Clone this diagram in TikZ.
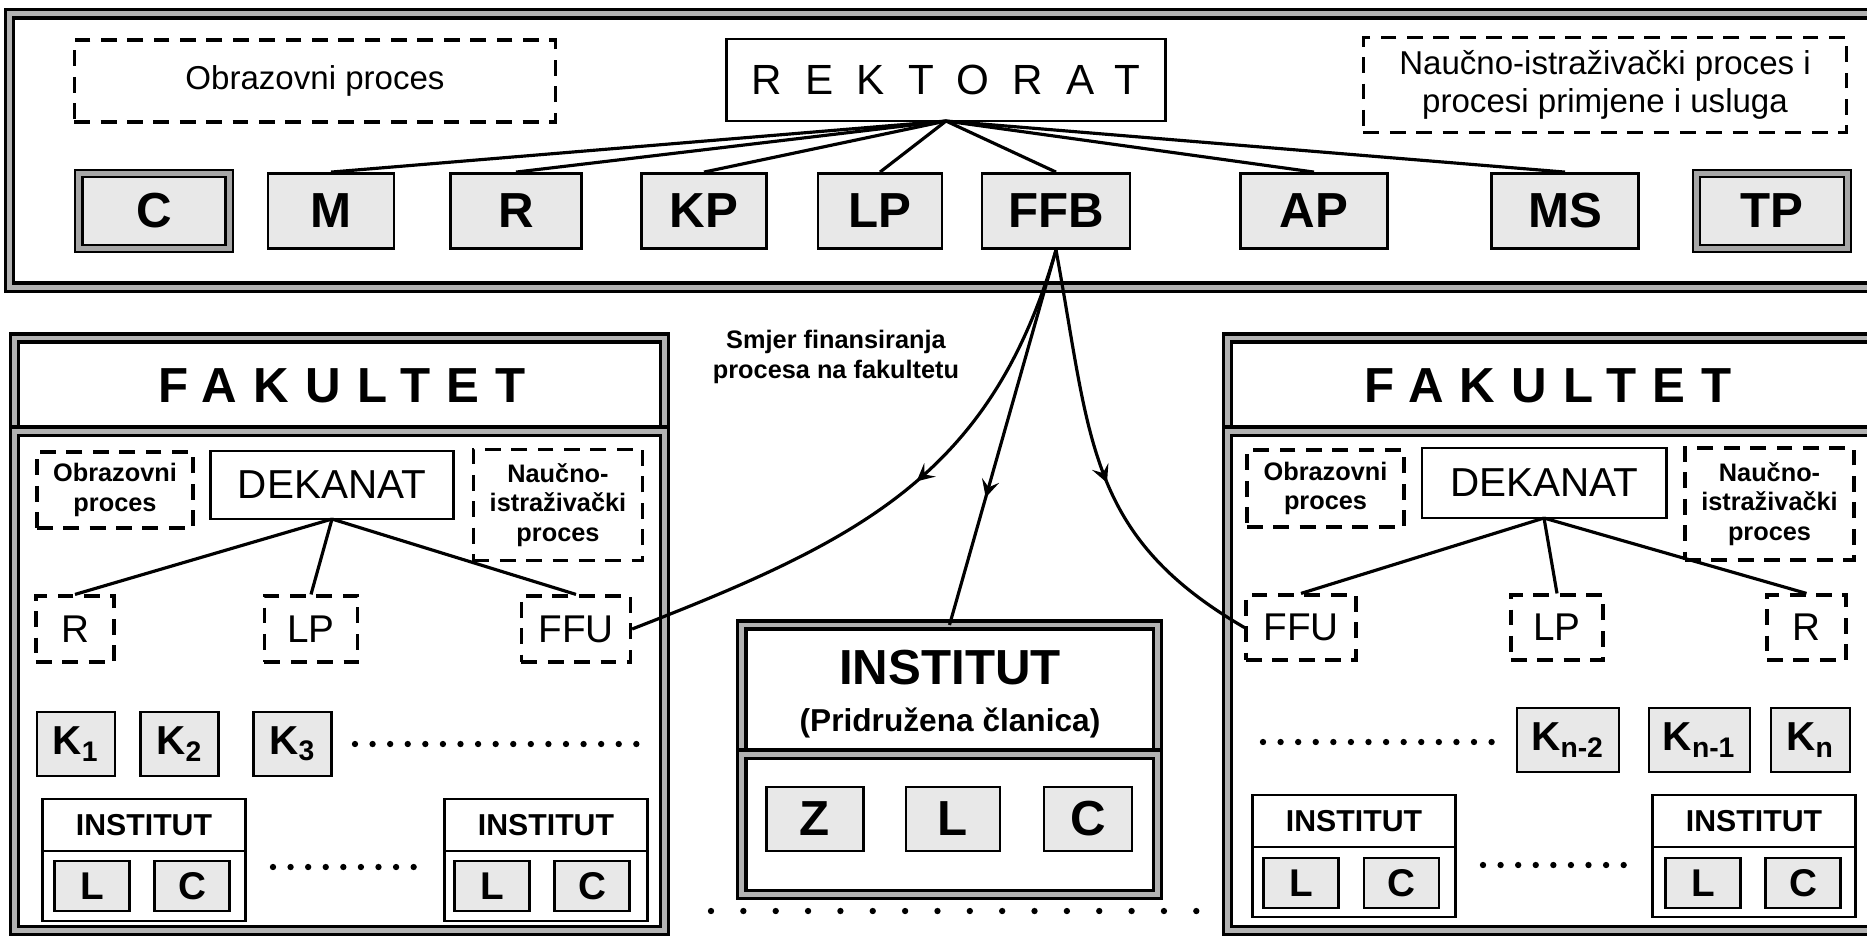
\documentclass[tikz,border=0pt]{standalone}
\usepackage{fontspec}
\setmainfont{Liberation Sans}
\newfontfamily\wideface[LetterSpace=55]{Liberation Sans}
\newfontfamily\fakface[LetterSpace=33]{Liberation Sans}
\usetikzlibrary{arrows.meta,decorations.markings,positioning}

\begin{document}
\begin{tikzpicture}[
  x=0.01cm,y=-0.01cm,
  >={Stealth[length=5pt,width=5pt,inset=2pt]},
  unit/.style={draw,line width=0.8pt,fill=black!9,inner sep=0pt,
    minimum height=0.75cm,font=\bfseries\fontsize{14}{16}\selectfont},
  dbl unit/.style={unit,line width=0.6pt,double=black!35,double distance=1.4pt},
  small unit/.style={unit,minimum width=0.75cm,minimum height=0.5cm,
    font=\bfseries\fontsize{11}{13}\selectfont},
  kunit/.style={unit,minimum height=0.64cm,font=\bfseries\fontsize{11.5}{13}\selectfont},
  headbox/.style={draw,line width=0.8pt,fill=white,inner sep=0pt,outer sep=0pt},
  insthead/.style={headbox,minimum width=2.03cm,minimum height=0.52cm,
    font=\bfseries\fontsize{8.6}{10}\selectfont},
  instbody/.style={headbox,minimum width=2.03cm,minimum height=0.70cm},
  dashbox/.style={draw,line width=0.9pt,dash pattern=on 4.5pt off 3pt,inner sep=0pt,
    align=center,font=\fontsize{11}{13}\selectfont},
  dframe/.style={draw,line width=0.9pt,double=black!30,double distance=1.4pt,
    inner sep=0pt,outer sep=0pt},
  link/.style={line width=0.9pt},
  flow/.style={link,postaction={decorate},
    decoration={markings,mark=at position #1 with {\arrow{>}}}},
  dots/.style={line width=1.8pt,line cap=round,dash pattern=on 0pt off #1},
  dots/.default=5pt,
  proc/.style={font=\fontsize{9.4}{11}\selectfont},
  subproc/.style={font=\bfseries\fontsize{7.2}{8.3}\selectfont},
  fak/.style={font=\fakface\bfseries\fontsize{14}{16}\selectfont},
  dek/.style={font=\fontsize{11.5}{13}\selectfont}
  ]
  \useasboundingbox (0,0) rectangle (1867,935);

  % rektorat band
  \node[dframe,minimum width=18.70cm,minimum height=2.73cm] (band) at (945,150.5) {};
  \node[dashbox,proc,minimum width=4.81cm,minimum height=0.82cm] (obr) at (315,81) {Obrazovni proces};
  \node[headbox,minimum width=4.39cm,minimum height=0.82cm,
    font=\wideface\fontsize{12}{14}\selectfont] (rek) at (946,80) {REKTORAT};
  \node[dashbox,proc,minimum width=4.83cm,minimum height=0.95cm] (nip) at (1605,85)
    {Naučno-istraživački proces i\\procesi primjene i usluga};
  \node[dbl unit,minimum width=1.50cm] (c)   at (154,211)  {C};
  \node[unit,minimum width=1.26cm]     (m)   at (331,211)  {M};
  \node[unit,minimum width=1.31cm]     (r)   at (516,211)  {R};
  \node[unit,minimum width=1.25cm]     (kp)  at (704,211)  {KP};
  \node[unit,minimum width=1.24cm]     (lp)  at (880,211)  {LP};
  \node[unit,minimum width=1.48cm]     (ffb) at (1056,211) {FFB};
  \node[unit,minimum width=1.47cm]     (ap)  at (1314,211) {AP};
  \node[unit,minimum width=1.47cm]     (ms)  at (1565,211) {MS};
  \node[dbl unit,minimum width=1.51cm] (tp)  at (1772,211) {TP};
  \foreach \n in {m,r,kp,lp,ffb,ap,ms}
    \draw[link] (rek.south) -- (\n.north);

  % left fakultet
  \node[dframe,minimum width=6.49cm,minimum height=0.93cm] (fakL) at (339.5,384.5) {};
  \node[fak] (fakLt) at (342,386) {FAKULTET};
  \node[dframe,minimum width=6.49cm,minimum height=4.99cm] (facL) [below=0pt of fakL] {};
  \node[dashbox,subproc,minimum width=1.56cm,minimum height=0.76cm] (obrL) at (115,490) {Obrazovni\\proces};
  \node[headbox,dek,minimum width=2.43cm,minimum height=0.68cm] (dekL) at (332,485) {DEKANAT};
  \node[dashbox,subproc,minimum width=1.69cm,minimum height=1.11cm] (nipL) at (558,505) {Naučno-\\istraživački\\proces};
  \node[dashbox,minimum width=0.78cm,minimum height=0.66cm] (rL)   at (75,629)  {R};
  \node[dashbox,minimum width=0.93cm,minimum height=0.66cm] (lpL)  at (311,629) {LP};
  \node[dashbox,minimum width=1.09cm,minimum height=0.66cm] (ffuL) at (576,629) {FFU};
  \foreach \n in {rL,lpL,ffuL}
    \draw[link] (dekL.south) -- (\n.north);
  \node[kunit,minimum width=0.78cm] (k1) at (76,744) {K\textsubscript{1}};
  \node[kunit,minimum width=0.78cm] (k2) [right=0.23cm of k1] {K\textsubscript{2}};
  \node[kunit,minimum width=0.78cm] (k3) [right=0.32cm of k2] {K\textsubscript{3}};
  \draw[dots] (355,744) -- (637,744);
  \node[insthead] (iLa) at (144,825) {INSTITUT};
  \node[instbody] (iLab) [below=0pt of iLa] {};
  \node[small unit] (iLaL) at (92,886)  {L};
  \node[small unit] (iLaC) at (192,886) {C};
  \draw[dots] (273,867) -- (425,867);
  \node[insthead] (iLb) at (546,825) {INSTITUT};
  \node[instbody] (iLbb) [below=0pt of iLb] {};
  \node[small unit] (iLbL) at (492,886) {L};
  \node[small unit] (iLbC) at (592,886) {C};

  % right fakultet
  \node[dframe,minimum width=6.52cm,minimum height=0.93cm] (fakR) at (1554,384.5) {};
  \node[fak] (fakRt) at (1548,386) {FAKULTET};
  \node[dframe,minimum width=6.52cm,minimum height=4.99cm] (facR) [below=0pt of fakR] {};
  \node[dashbox,subproc,minimum width=1.57cm,minimum height=0.77cm] (obrR) at (1325.5,488.5) {Obrazovni\\proces};
  \node[headbox,dek,minimum width=2.44cm,minimum height=0.70cm] (dekR) at (1544,483) {DEKANAT};
  \node[dashbox,subproc,minimum width=1.69cm,minimum height=1.12cm] (nipR) at (1769.5,504) {Naučno-\\istraživački\\proces};
  \node[dashbox,minimum width=1.10cm,minimum height=0.65cm] (ffuR) at (1301,627.5)   {FFU};
  \node[dashbox,minimum width=0.92cm,minimum height=0.65cm] (lpR)  at (1557,627.5)   {LP};
  \node[dashbox,minimum width=0.79cm,minimum height=0.65cm] (rR)   at (1806.5,627.5) {R};
  \foreach \n in {ffuR,lpR,rR}
    \draw[link] (dekR.south) -- (\n.north);
  \draw[dots] (1263,742) -- (1496,742);
  \node[kunit,minimum width=1.02cm] (kn2) at (1568,740)   {K\textsubscript{n-2}};
  \node[kunit,minimum width=1.01cm] (kn1) at (1699.5,740) {K\textsubscript{n-1}};
  \node[kunit,minimum width=0.79cm] (kn)  at (1810.5,740) {K\textsubscript{n}};
  \node[insthead] (iRa) at (1354,821) {INSTITUT};
  \node[instbody] (iRab) [below=0pt of iRa] {};
  \node[small unit] (iRaL) at (1301,883)   {L};
  \node[small unit] (iRaC) at (1401.5,883) {C};
  \draw[dots] (1483,865) -- (1635,865);
  \node[insthead] (iRb) at (1754,821) {INSTITUT};
  \node[instbody] (iRbb) [below=0pt of iRb] {};
  \node[small unit] (iRbL) at (1703,883) {L};
  \node[small unit] (iRbC) at (1803,883) {C};

  % pridruzena clanica
  \node[dframe,minimum width=4.15cm,minimum height=1.29cm] (inst) at (949.5,689.5) {};
  \node[dframe,minimum width=4.15cm,minimum height=1.40cm] (instB) [below=0pt of inst] {};
  \node[font=\bfseries\fontsize{14}{16}\selectfont] (instT) at (950,668) {INSTITUT};
  \node[font=\bfseries\fontsize{9}{11}\selectfont] (instS) at (950,723) {(Pridružena članica)};
  \node[unit,minimum width=0.97cm,minimum height=0.64cm] (z)  at (815,819)  {Z};
  \node[unit,minimum width=0.94cm,minimum height=0.64cm] (l)  at (953,819)  {L};
  \node[unit,minimum width=0.88cm,minimum height=0.64cm] (cc) at (1088,819) {C};
  \draw[dots=9.2pt] (711,911) -- (1199,911);

  % smjer finansiranja
  \node[font=\bfseries\fontsize{7.2}{8.5}\selectfont,align=center] (smjer) at (836,357)
    {Smjer finansiranja\\procesa na fakultetu};
  \draw[flow=0.46] (ffb.south) .. controls +(-65,225) and +(229,-89) .. (ffuL.east);
  \draw[flow=0.66] (ffb.south) -- (inst.north);
  \draw[flow=0.54] (ffb.south) .. controls +(35,190) and +(-158,-92) .. (ffuR.west);
\end{tikzpicture}
\end{document}
